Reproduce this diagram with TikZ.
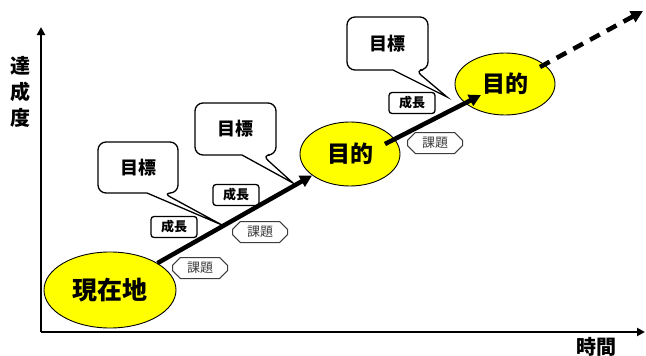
\documentclass[tikz,border=0pt]{standalone}
\usepackage{fontspec}
\newfontfamily\cjk{Noto Sans CJK JP}
\newfontfamily\cjkh{Noto Sans CJK JP Black}
\usetikzlibrary{arrows.meta,shapes.geometric,shapes.misc}
\definecolor{yel}{RGB}{255,255,0}
\definecolor{kgray}{RGB}{60,60,60}
\tikzset{
  ell/.style={ellipse, draw=black, line width=0.9pt, fill=yel, inner sep=0pt},
  bigarrow/.style={line width=4.5pt, -{Triangle[length=12pt,width=12pt]}},
  axisline/.style={line width=2.8pt, -{Triangle[length=8pt,width=8pt]}},
  callout/.style={draw=black, line width=1.3pt, fill=white, rounded corners=8pt},
  growbox/.style={draw=black, line width=1.3pt, fill=white, rounded corners=3pt, minimum width=46pt, minimum height=21pt, inner sep=0pt, font=\cjkh\fontsize{13}{13}\selectfont},
  taskbox/.style={chamfered rectangle, chamfered rectangle xsep=5pt, draw=kgray, line width=1pt, fill=white, minimum width=55pt, minimum height=21pt, inner sep=0pt, text=kgray, font=\cjk\fontsize{13}{13}\selectfont},
  bigtext/.style={font=\cjkh\fontsize{18}{18}\selectfont},
  axlabel/.style={font=\cjkh\fontsize{20}{26}\selectfont, align=center, inner sep=0pt}
}
\begin{document}
\begin{tikzpicture}[x=1pt,y=-1pt]
\useasboundingbox (0,0) rectangle (646,356);
% axes
\coordinate (o) at (41,332);
\coordinate (xe) at (645,332);
\coordinate (ye) at (41,27);
\draw[axisline] (o) -- (xe);
\draw[axisline] (o) -- (ye);
\node[axlabel] (ylab) at (20,92) {達\\成\\度};
\node[axlabel] (xlab) at (596,347) {時間};
% callouts
\draw[callout] (147,193) -- (98,193) -- (98,142) -- (178,142) -- (178,193) -- (163,193) [sharp corners] -- (222,225) -- cycle;
\node[bigtext] (t1) at (138,168) {目標};
\draw[callout] (242,155) -- (195,155) -- (195,103) -- (276,103) -- (276,155) -- (262,155) [sharp corners] -- (293,183) -- cycle;
\node[bigtext] (t2) at (235,129) {目標};
\draw[callout] (393,70) -- (347,70) -- (347,17) -- (428,17) -- (428,70) -- (415,70) [sharp corners] -- (447,97) -- cycle;
\node[bigtext] (t3) at (387,44) {目標};
% small boxes
\node[growbox] (s1) at (174,227) {成長};
\node[growbox] (s2) at (236,195) {成長};
\node[growbox] (s3) at (412,103) {成長};
\node[taskbox] (k1) at (200,268) {課題};
\node[taskbox] (k2) at (260,232) {課題};
\node[taskbox] (k3) at (435,143) {課題};
% ellipses
\node[ell, minimum width=132pt, minimum height=76pt, font=\cjkh\fontsize{25}{25}\selectfont] (now) at (110,290) {現在地};
\node[ell, minimum width=100pt, minimum height=64pt, font=\cjkh\fontsize{23}{23}\selectfont] (g1) at (350,154) {目的};
\node[ell, minimum width=100pt, minimum height=62pt, font=\cjkh\fontsize{23}{23}\selectfont] (g2) at (505,84) {目的};
% arrows
\draw[bigarrow] (now) -- (g1);
\coordinate (a2s) at (385,144);
\coordinate (a2e) at (481,95);
\draw[bigarrow] (a2s) -- (a2e);
\coordinate (a3s) at (540,67);
\coordinate (a3e) at (643,11);
\draw[bigarrow, dash pattern=on 11pt off 8pt] (a3s) -- (a3e);
\end{tikzpicture}
\end{document}
